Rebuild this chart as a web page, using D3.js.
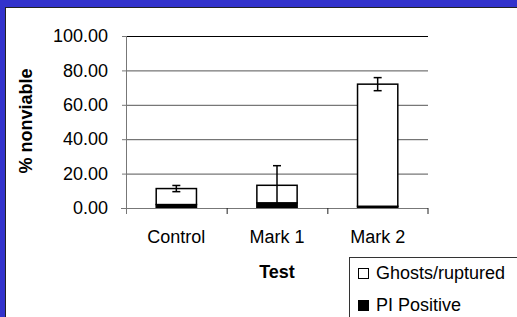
<!DOCTYPE html>
<html>

<head>
  <meta charset="utf-8">
  <title>% nonviable</title>
  <script src="https://d3js.org/d3.v7.min.js"></script>
  <style>
    body { margin: 0; }
    text { font-family: Arial, "Liberation Sans", sans-serif; }
  </style>
</head>

<body>
  <div id='view'></div>
  <script>
    var categories = ["Control", "Mark 1", "Mark 2"];
    var piPositive = [2.0, 3.0, 1.0];
    var ghosts = [9.3, 10.2, 71.0];
    var errors = [1.8, 11.4, 3.8];
    var yTicks = [0, 20, 40, 60, 80, 100];
    var seriesNames = ["Ghosts/ruptured", "PI Positive"];

    var width = 517;
    var height = 317;

    var svg = d3.select("#view")
      .append("svg")
      .attr("width", width)
      .attr("height", height);

    // blue frame
    svg.append("rect")
      .attr("width", width)
      .attr("height", height)
      .attr("fill", "#3333cc");
    svg.append("rect")
      .attr("x", 5)
      .attr("y", 7)
      .attr("width", width)
      .attr("height", height)
      .attr("fill", "#222");
    svg.append("rect")
      .attr("x", 6)
      .attr("y", 8)
      .attr("width", width)
      .attr("height", height)
      .attr("fill", "white");

    var x = d3.scaleBand()
      .domain(categories)
      .range([126, 428]);

    var y = d3.scaleLinear()
      .domain([0, 100])
      .range([208, 36]);

    // gridlines
    svg.append("g")
      .selectAll("line")
      .data(yTicks.filter(function (d) { return d > 0; }))
      .enter()
      .append("line")
      .attr("x1", 126)
      .attr("x2", 428)
      .attr("y1", function (d) { return y(d) + 0.5; })
      .attr("y2", function (d) { return y(d) + 0.5; })
      .attr("stroke", function (d) { return d == 100 ? "#000" : "#555"; })
      .attr("stroke-width", 1);

    var data = categories.map(function (c, i) {
      return { cat: c, pi: piPositive[i], gh: ghosts[i], err: errors[i] };
    });

    var barW = x.bandwidth() * 0.4;
    var barX = function (d) { return x(d.cat) + (x.bandwidth() - barW) / 2; };

    // PI positive (bottom)
    svg.append("g")
      .selectAll("rect")
      .data(data)
      .enter()
      .append("rect")
      .attr("x", barX)
      .attr("y", function (d) { return y(d.pi); })
      .attr("width", barW)
      .attr("height", function (d) { return y(0) - y(d.pi); })
      .attr("fill", "black")
      .attr("stroke", "black")
      .attr("stroke-width", 1.5);

    // Ghosts/ruptured (stacked on top)
    svg.append("g")
      .selectAll("rect")
      .data(data)
      .enter()
      .append("rect")
      .attr("x", barX)
      .attr("y", function (d) { return y(d.pi + d.gh); })
      .attr("width", barW)
      .attr("height", function (d) { return y(d.pi) - y(d.pi + d.gh); })
      .attr("fill", "white")
      .attr("stroke", "black")
      .attr("stroke-width", 1.5);

    // error bars
    var eb = svg.append("g")
      .selectAll("g")
      .data(data)
      .enter()
      .append("g")
      .attr("stroke", "black")
      .attr("stroke-width", 1.5);
    var cx = function (d) { return x(d.cat) + x.bandwidth() / 2; };
    eb.append("line")
      .attr("x1", cx).attr("x2", cx)
      .attr("y1", function (d) { return y(d.pi + d.gh + d.err); })
      .attr("y2", function (d) { return y(d.pi + d.gh - d.err); });
    eb.append("line")
      .attr("x1", function (d) { return cx(d) - 4; })
      .attr("x2", function (d) { return cx(d) + 4; })
      .attr("y1", function (d) { return y(d.pi + d.gh + d.err); })
      .attr("y2", function (d) { return y(d.pi + d.gh + d.err); });
    eb.append("line")
      .attr("x1", function (d) { return cx(d) - 4; })
      .attr("x2", function (d) { return cx(d) + 4; })
      .attr("y1", function (d) { return y(d.pi + d.gh - d.err); })
      .attr("y2", function (d) { return y(d.pi + d.gh - d.err); });

    // y axis
    var yAxis = svg.append("g")
      .attr("transform", "translate(126,0)")
      .call(d3.axisLeft(y)
        .tickValues(yTicks)
        .tickFormat(d3.format(".2f"))
        .tickSize(4)
        .tickSizeOuter(0)
        .tickPadding(14));
    yAxis.select(".domain").attr("stroke", "#777").attr("d", "M0.5,36V214");
    yAxis.selectAll(".tick line").attr("stroke", "#777");
    yAxis.selectAll("text")
      .attr("fill", "black")
      .style("font-size", "18px");

    // x axis
    var xAxis = svg.append("g")
      .attr("transform", "translate(0,208)")
      .call(d3.axisBottom(x)
        .tickSize(0)
        .tickSizeOuter(0)
        .tickPadding(22));
    xAxis.select(".domain").attr("stroke", "#777").attr("d", "M121,0.5H428");
    xAxis.selectAll("text")
      .attr("fill", "black")
      .style("font-size", "18px");

    // category boundary ticks
    xAxis.append("g")
      .selectAll("line")
      .data(categories.slice(1).concat(["end"]))
      .enter()
      .append("line")
      .attr("x1", function (d) { return d == "end" ? 428 : x(d) + 0.5; })
      .attr("x2", function (d) { return d == "end" ? 428 : x(d) + 0.5; })
      .attr("y1", 0)
      .attr("y2", 6)
      .attr("stroke", "#222");

    // axis titles
    svg.append("text")
      .attr("transform", "translate(32,121) rotate(-90)")
      .attr("text-anchor", "middle")
      .style("font-size", "18px")
      .style("font-weight", "bold")
      .text("% nonviable");

    svg.append("text")
      .attr("x", 277)
      .attr("y", 278)
      .attr("text-anchor", "middle")
      .style("font-size", "18px")
      .style("font-weight", "bold")
      .text("Test");

    // legend
    svg.append("rect")
      .attr("x", 349.5)
      .attr("y", 257.5)
      .attr("width", 200)
      .attr("height", 100)
      .attr("fill", "white")
      .attr("stroke", "#333");

    var legend = svg.append("g")
      .selectAll("g")
      .data(seriesNames)
      .enter()
      .append("g")
      .attr("transform", function (d, i) { return "translate(358," + (268 + i * 32) + ")"; });
    legend.append("rect")
      .attr("x", 0.5)
      .attr("y", 0.5)
      .attr("width", 10)
      .attr("height", 10)
      .attr("fill", function (d, i) { return i == 0 ? "white" : "black"; })
      .attr("stroke", "black");
    legend.append("text")
      .attr("x", 18)
      .attr("y", 11)
      .style("font-size", "18px")
      .text(function (d) { return d; });
  </script>
</body>

</html>
